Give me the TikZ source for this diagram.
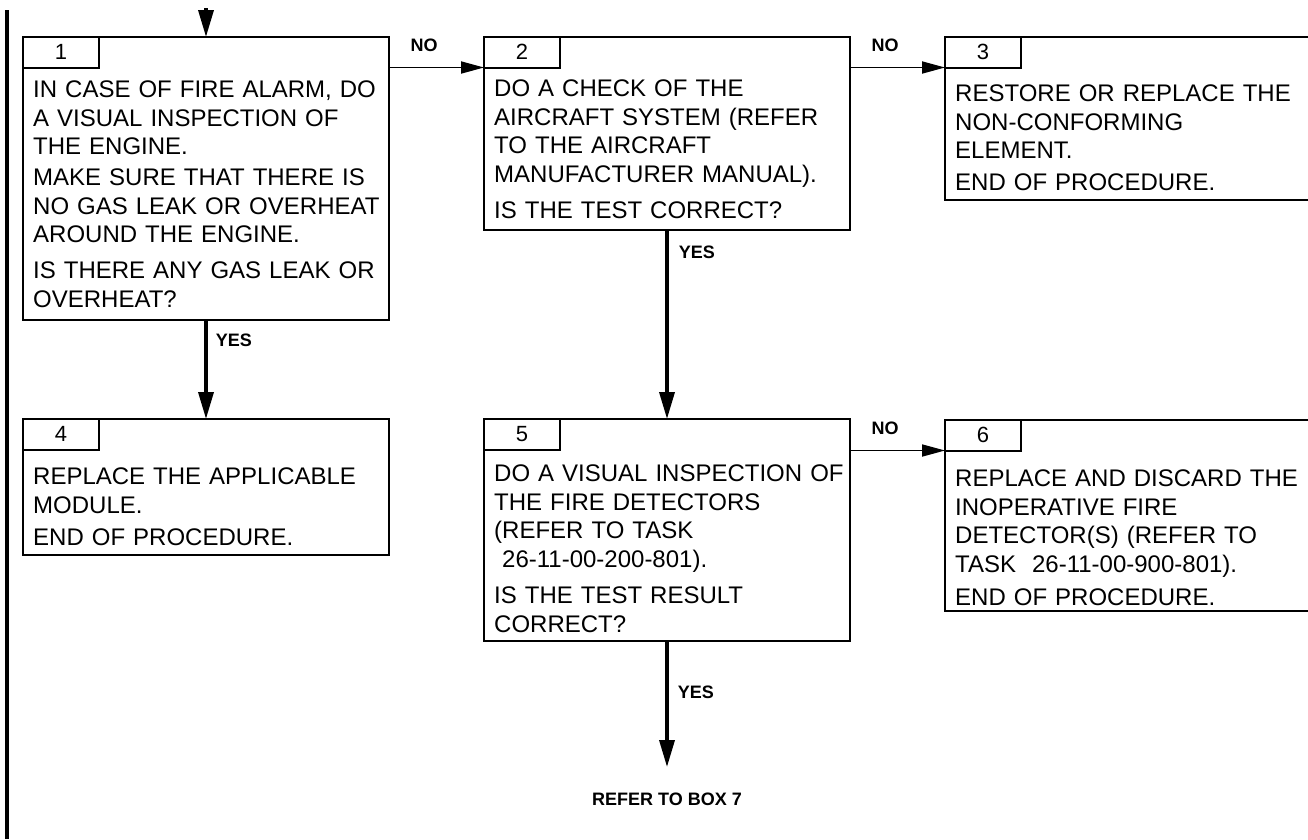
\documentclass[tikz,border=0pt]{standalone}
\usepackage{fontspec}
\setmainfont{Liberation Sans}
\usetikzlibrary{positioning,arrows.meta}

\begin{document}
\begin{tikzpicture}[
x=1pt, y=-1pt,
box/.style={rectangle, draw=black, line width=2pt, minimum width=366pt, anchor=north west, inner sep=0pt, outer sep=0pt},
tab/.style={rectangle, draw=black, line width=2pt, minimum width=76pt, minimum height=30.5pt, anchor=north west, inner sep=0pt, outer sep=0pt, font=\fontsize{22}{22}\selectfont},
txt/.style={inner sep=0pt, text width=350pt, align=left, font=\fontsize{24}{28.5}\selectfont},
lbl/.style={inner sep=0pt, font=\bfseries\fontsize{18}{18}\selectfont},
flowh/.style={line width=1.8pt, -{Triangle[length=23pt,width=12pt]}},
flowv/.style={line width=3.5pt, -{Triangle[length=27pt,width=15pt]}},
]

\clip (0,0) rectangle (1308,839);

% change bar
\draw[line width=4pt] (6.5,10) -- (6.5,839);

% boxes
\node[box, minimum height=283pt]   (b1) at (23,37) {};
\node[box, minimum height=192.5pt] (b2) [right=95pt of b1.north east, anchor=north west] {};
\node[box, minimum height=163pt]   (b3) [right=95pt of b2.north east, anchor=north west] {};
\node[box, minimum height=135.5pt] (b4) [below=99pt of b1.south west, anchor=north west] {};
\node[box, minimum height=221.5pt] (b5) [below=189.5pt of b2.south west, anchor=north west] {};
\node[box, minimum height=191pt]   (b6) [right=95pt of b5.north east, anchor=north west, yshift=-1pt] {};

% numbers
\node[tab] (t1) at (b1.north west) {1};
\node[tab] (t2) at (b2.north west) {2};
\node[tab] (t3) at (b3.north west) {3};
\node[tab] (t4) at (b4.north west) {4};
\node[tab] (t5) at (b5.north west) {5};
\node[tab] (t6) at (b6.north west) {6};

% texts
\node[txt] (x1) [below right=44pt and 10pt of b1.north west] {IN CASE OF FIRE ALARM, DO\\A VISUAL INSPECTION OF\\THE ENGINE.\\[2.5pt]MAKE SURE THAT THERE IS\\NO GAS LEAK OR OVERHEAT\\AROUND THE ENGINE.\\[7.5pt]IS THERE ANY GAS LEAK OR\\OVERHEAT?};
\node[txt] (x2) [below right=43pt and 10pt of b2.north west] {DO A CHECK OF THE\\AIRCRAFT SYSTEM (REFER\\TO THE AIRCRAFT\\MANUFACTURER MANUAL).\\[7.5pt]IS THE TEST CORRECT?};
\node[txt] (x3) [below right=48pt and 10pt of b3.north west] {RESTORE OR REPLACE THE\\NON-CONFORMING\\ELEMENT.\\[3pt]END OF PROCEDURE.};
\node[txt] (x4) [below right=49pt and 10pt of b4.north west] {REPLACE THE APPLICABLE\\MODULE.\\[4pt]END OF PROCEDURE.};
\node[txt] (x5) [below right=46pt and 10pt of b5.north west] {DO A VISUAL INSPECTION OF\\THE FIRE DETECTORS\\(REFER TO TASK\\\ 26-11-00-200-801).\\[8pt]IS THE TEST RESULT\\CORRECT?};
\node[txt] (x6) [below right=50pt and 10pt of b6.north west] {REPLACE AND DISCARD THE\\INOPERATIVE FIRE\\DETECTOR(S) (REFER TO\\TASK\ \ 26-11-00-900-801).\\[5pt]END OF PROCEDURE.};

% ends
\coordinate[above=29pt of b1.north] (in1);
\coordinate[below=126.5pt of b5.south] (e5);
\node[lbl, below=26pt of e5, anchor=north] (refer) {REFER TO BOX 7};

% connectors
\draw[flowv] (in1) -- (b1.north);
\draw[flowh] (b1.east |- t2.south west) -- node[lbl, above=15pt, pos=0.37] {NO} (t2.south west);
\draw[flowh] (b2.east |- t3.south west) -- node[lbl, above=15pt, pos=0.37] {NO} (t3.south west);
\draw[flowh] (b5.east |- t6.south west) -- node[lbl, above=15pt, pos=0.37] {NO} (t6.south west);
\draw[flowv] (b1.south) -- node[lbl, right=8pt, pos=0.2] {YES} (b4.north);
\draw[flowv] (b2.south) -- node[lbl, right=10pt, pos=0.12] {YES} (b5.north);
\draw[flowv] (b5.south) -- node[lbl, right=9pt, pos=0.41] {YES} (e5);

\end{tikzpicture}
\end{document}
